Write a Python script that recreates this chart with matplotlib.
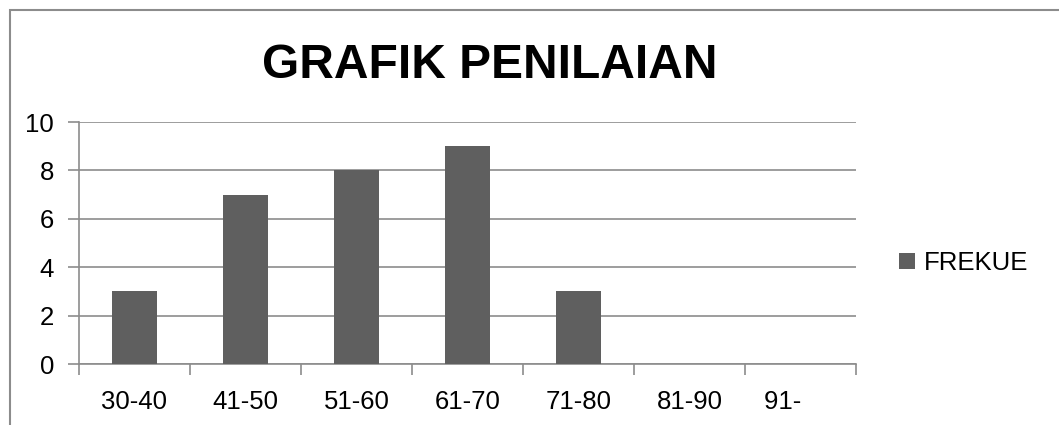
import matplotlib.pyplot as plt
import matplotlib.patches as patches
import numpy as np

# ===== DATA =====
categories = ["30-40", "41-50", "51-60", "61-70", "71-80", "81-90", "91-     "]
frekuensi = [3, 7, 8, 9, 3, 0, 0]
series_name = "FREKUE"
title = "GRAFIK PENILAIAN"
yticks = [0, 2, 4, 6, 8, 10]

# ===== STYLE =====
bar_color = "#5f5f5f"
grid_color = "#8c8c8c"
plt.rcParams['font.family'] = ['Liberation Sans', 'DejaVu Sans']

fig = plt.figure(figsize=(10.59, 4.25), dpi=100)
ax = fig.add_axes([79/1059, 61/425, (856-79)/1059, (364-122)/425])

x = np.arange(len(categories))
ax.bar(x, frekuensi, width=0.41, color=bar_color, label=series_name, zorder=3)

ax.set_xlim(-0.5, len(categories) - 0.5)
ax.set_ylim(0, 10)
ax.set_yticks(yticks)
ax.set_yticklabels([str(v) for v in yticks], fontsize=18.5)

# category labels centered, tick marks on category boundaries
ax.set_xticks(np.arange(len(categories) + 1) - 0.5)
ax.set_xticklabels([])
ax.set_xticks(x, minor=True)
ax.set_xticklabels(categories, minor=True, fontsize=18.5)
ax.tick_params(axis='x', which='minor', length=0, pad=19)
ax.tick_params(axis='x', which='major', length=8, width=1.2, color=grid_color)
ax.tick_params(axis='y', length=8, width=1.2, color=grid_color, pad=10)

ax.grid(axis='y', color=grid_color, linewidth=1.2, zorder=0)
for side in ["top", "right"]:
    ax.spines[side].set_visible(False)
for side in ["left", "bottom"]:
    ax.spines[side].set_color(grid_color)
    ax.spines[side].set_linewidth(1.2)

fig.text(490/1059, 1 - 66/425, title, fontsize=34.5, fontweight='bold',
         ha='center', va='center')

ax.legend(loc='center left', bbox_to_anchor=(876/1059, 1 - 263/425),
          bbox_transform=fig.transFigure, frameon=False, fontsize=18.5,
          handlelength=0.6, handleheight=0.6, handletextpad=0.35)

# outer chart border (cropped on right and bottom)
fig.patches.append(patches.Rectangle((10/1059, -0.1), 1.2, 1.1 - 10/425,
                                     transform=fig.transFigure, fill=False,
                                     edgecolor="#8c8c8c", linewidth=1.5))

fig.savefig("out.png", dpi=100)
